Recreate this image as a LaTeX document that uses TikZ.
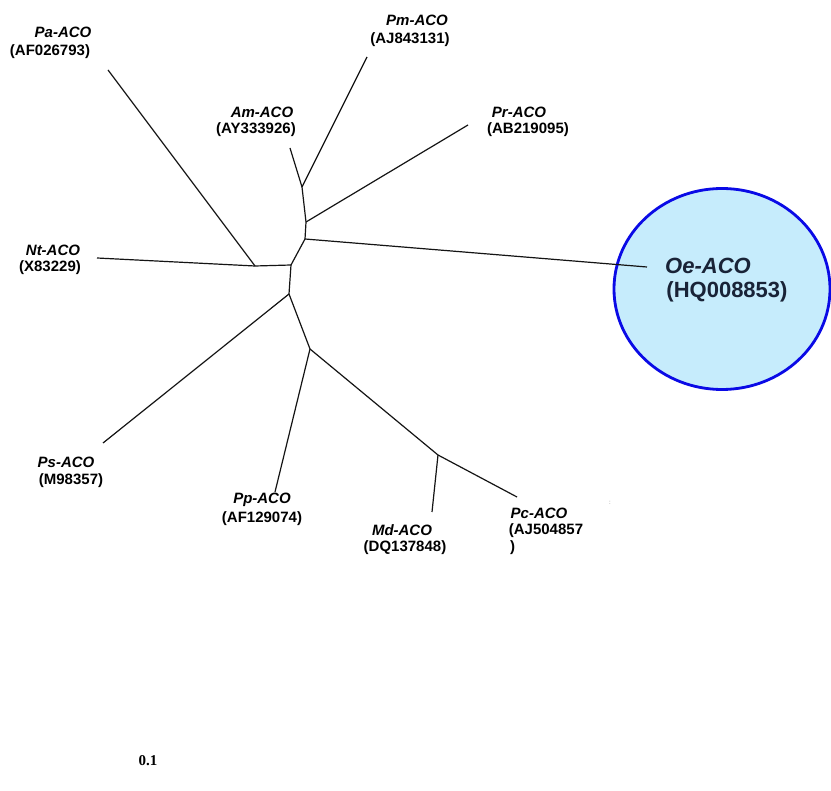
\documentclass[tikz,border=0pt]{standalone}
\usepackage{fontspec}
\usetikzlibrary{shapes.geometric}
\newfontfamily\arialfam{Liberation Sans}
\newfontfamily\timesfam{Liberation Serif}
\definecolor{edgecol}{RGB}{20,20,20}
\definecolor{ringblue}{RGB}{10,10,230}
\definecolor{ringfill}{RGB}{198,236,252}
\definecolor{oetext}{RGB}{25,35,55}
\begin{document}
\begin{tikzpicture}[x=1pt,y=-1pt,
  branch/.style={draw=edgecol,line width=1.2pt},
  taxon/.style={inner sep=0pt,font=\arialfam\bfseries\itshape\fontsize{15}{15}\selectfont},
  acc/.style={inner sep=0pt,font=\arialfam\bfseries\fontsize{15}{15}\selectfont},
  bigtaxon/.style={inner sep=0pt,text=oetext,font=\arialfam\bfseries\itshape\fontsize{22}{22}\selectfont},
  bigacc/.style={inner sep=0pt,text=oetext,font=\arialfam\bfseries\fontsize{22}{22}\selectfont}]
\useasboundingbox (0,0) rectangle (831,791);
\fill[white] (0,0) rectangle (831,791);

% highlighted taxon
\node[draw=ringblue,line width=2.8pt,fill=ringfill,ellipse,minimum width=216pt,minimum height=201pt,inner sep=0pt] (ring) at (722,289) {};

% internal nodes
\coordinate (n1) at (302,187);
\coordinate (n2) at (306,222);
\coordinate (n3) at (305,239);
\coordinate (n4) at (291,265);
\coordinate (n5) at (255,266);
\coordinate (n6) at (289,294);
\coordinate (n7) at (310,349);
\coordinate (n8) at (438,455);

% leaf tips
\coordinate (pa) at (108,70);
\coordinate (pm) at (367,57);
\coordinate (am) at (290,148);
\coordinate (pr) at (468,125);
\coordinate (oe) at (647,267);
\coordinate (nt) at (97,258);
\coordinate (ps) at (103,443);
\coordinate (pp) at (275,492);
\coordinate (md) at (432,512);
\coordinate (pc) at (517,497);

% branches
\draw[branch] (n1) -- (am);
\draw[branch] (n1) -- (pm);
\draw[branch] (n2) -- (n1);
\draw[branch] (n2) -- (pr);
\draw[branch] (n3) -- (n2);
\draw[branch] (n3) -- (oe);
\draw[branch] (n4) -- (n3);
\draw[branch] (n4) -- (n5);
\draw[branch] (n5) -- (pa);
\draw[branch] (n5) -- (nt);
\draw[branch] (n6) -- (n4);
\draw[branch] (n6) -- (ps);
\draw[branch] (n6) -- (n7);
\draw[branch] (n7) -- (pp);
\draw[branch] (n7) -- (n8);
\draw[branch] (n8) -- (md);
\draw[branch] (n8) -- (pc);

% labels
\node[taxon] (paT) at (63,32) {Pa-ACO};
\node[acc] (paA) at (50,52) {(AF026793)};
\node[taxon] (pmT) at (417,20) {Pm-ACO};
\node[acc] (pmA) at (410,40) {(AJ843131)};
\node[taxon] (amT) at (262,112) {Am-ACO};
\node[acc] (amA) at (256,130) {(AY333926)};
\node[taxon] (prT) at (519,112) {Pr-ACO};
\node[acc] (prA) at (528,130) {(AB219095)};
\node[taxon] (ntT) at (53,250) {Nt-ACO};
\node[acc] (ntA) at (50,268) {(X83229)};
\node[bigtaxon] (oeT) at (708,266) {Oe-ACO};
\node[bigacc] (oeA) at (727,292) {(HQ008853)};
\node[taxon] (psT) at (66,462) {Ps-ACO};
\node[acc] (psA) at (71,481) {(M98357)};
\node[taxon] (ppT) at (262,500) {Pp-ACO};
\node[acc] (ppA) at (262,519) {(AF129074)};
\node[taxon] (mdT) at (402,530) {Md-ACO};
\node[acc] (mdA) at (405,548) {(DQ137848)};
\node[taxon] (pcT) at (539,513) {Pc-ACO};
\node[acc] (pcA) at (546,531) {(AJ504857};
\node[acc,anchor=west] (pcB) at (510,548) {)};
\node[inner sep=0pt,text=gray,font=\arialfam\fontsize{6}{6}\selectfont] (dot) at (610,503) {:};
\node[inner sep=0pt,font=\timesfam\bfseries\fontsize{15}{15}\selectfont] (scale) at (148,761) {0.1};
\end{tikzpicture}
\end{document}
